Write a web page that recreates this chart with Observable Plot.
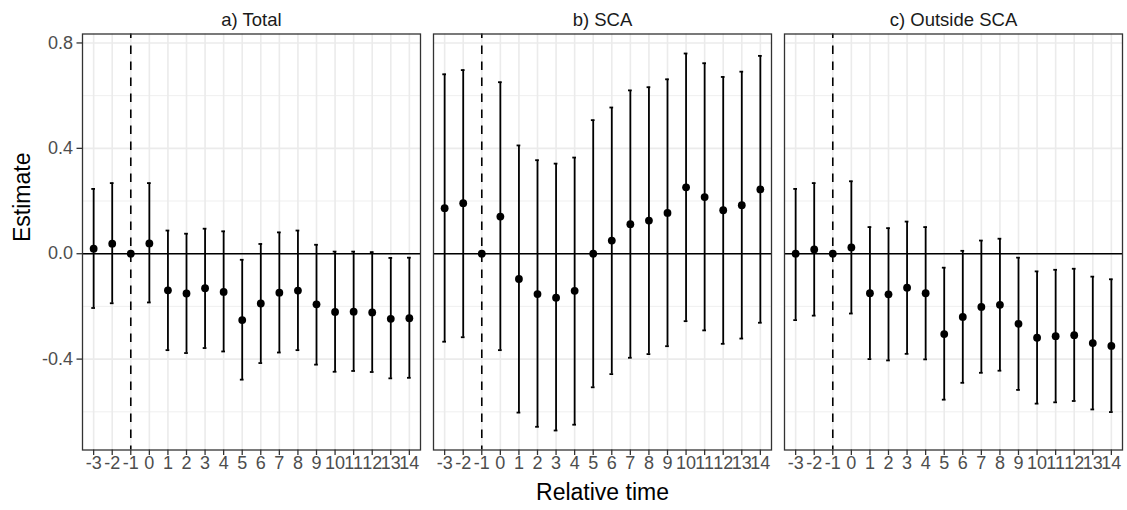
<!DOCTYPE html>
<html><head><meta charset="utf-8">
<script src="https://cdn.jsdelivr.net/npm/d3@7"></script>
<script src="https://cdn.jsdelivr.net/npm/@observablehq/plot@0.6"></script>
<style>html,body{margin:0;padding:0;background:#fff}</style>
</head><body><div id="chart"></div>
<script>
const panels = ["a) Total", "b) SCA", "c) Outside SCA"];
const relTime = [-3, -2, -1, 0, 1, 2, 3, 4, 5, 6, 7, 8, 9, 10, 11, 12, 13, 14];
const yMajor = [-0.4, 0, 0.4, 0.8];
const yMinor = [-0.6, -0.2, 0.2, 0.6];

const totalEst = [0.019, 0.038, 0, 0.039, -0.139, -0.151, -0.131, -0.145, -0.252, -0.189, -0.148, -0.140, -0.192, -0.221, -0.220, -0.223, -0.247, -0.245];
const totalLo  = [-0.206, -0.188, 0, -0.185, -0.366, -0.377, -0.358, -0.371, -0.478, -0.415, -0.375, -0.366, -0.421, -0.448, -0.445, -0.449, -0.473, -0.471];
const totalHi  = [0.246, 0.268, 0, 0.268, 0.088, 0.076, 0.095, 0.085, -0.023, 0.037, 0.081, 0.088, 0.034, 0.008, 0.008, 0.006, -0.016, -0.015];

const scaEst = [0.173, 0.192, 0, 0.141, -0.096, -0.153, -0.167, -0.141, 0.0, 0.050, 0.112, 0.126, 0.155, 0.252, 0.215, 0.165, 0.184, 0.244];
const scaLo  = [-0.334, -0.317, 0, -0.366, -0.603, -0.657, -0.671, -0.649, -0.507, -0.457, -0.395, -0.381, -0.351, -0.256, -0.291, -0.342, -0.322, -0.262];
const scaHi  = [0.681, 0.697, 0, 0.651, 0.411, 0.355, 0.342, 0.365, 0.507, 0.555, 0.620, 0.632, 0.662, 0.760, 0.723, 0.671, 0.691, 0.751];

const outEst = [0.0, 0.016, 0, 0.024, -0.150, -0.154, -0.129, -0.150, -0.305, -0.240, -0.202, -0.194, -0.266, -0.319, -0.313, -0.309, -0.339, -0.350];
const outLo  = [-0.252, -0.235, 0, -0.227, -0.400, -0.405, -0.380, -0.401, -0.554, -0.490, -0.452, -0.444, -0.517, -0.569, -0.564, -0.559, -0.591, -0.601];
const outHi  = [0.246, 0.268, 0, 0.275, 0.101, 0.097, 0.122, 0.101, -0.053, 0.011, 0.050, 0.057, -0.015, -0.067, -0.061, -0.057, -0.087, -0.097];

const series = [[totalEst, totalLo, totalHi], [scaEst, scaLo, scaHi], [outEst, outLo, outHi]];
const rows = [];
panels.forEach((p, i) => relTime.forEach((t, j) => {
  rows.push({panel: p, t, est: series[i][0][j], lo: series[i][1][j], hi: series[i][2][j]});
}));
const bars = rows.filter(d => d.hi !== d.lo);

const font = "'Liberation Sans', Arial, sans-serif";
const chart = Plot.plot({
  width: 1127, height: 510,
  marginTop: 33.5, marginBottom: 60.5, marginLeft: 81.7, marginRight: 4.7,
  style: {fontFamily: font, background: "#fff", overflow: "visible"},
  fx: {domain: panels, paddingInner: 0.036, paddingOuter: 0, axis: null, label: null},
  x: {domain: [-3.6, 14.6]},
  y: {domain: [-0.745, 0.834]},
  marks: [
    Plot.gridY(yMinor, {stroke: "#ebebeb", strokeOpacity: 1, strokeWidth: 0.8}),
    Plot.gridY(yMajor, {stroke: "#ebebeb", strokeOpacity: 1, strokeWidth: 1.6}),
    Plot.gridX(relTime, {stroke: "#ebebeb", strokeOpacity: 1, strokeWidth: 1.6}),
    Plot.ruleY([0], {stroke: "#000", strokeWidth: 1.6}),
    Plot.ruleX([-1], {stroke: "#000", strokeWidth: 1.6, strokeDasharray: "8.5,7.5", strokeDashoffset: 4}),
    Plot.ruleX(bars, {fx: "panel", x: "t", y1: "lo", y2: "hi", stroke: "#000", strokeWidth: 1.8}),
    Plot.ruleY(bars, {fx: "panel", y: "lo", x1: d => d.t - 0.1, x2: d => d.t + 0.1, stroke: "#000", strokeWidth: 1.8}),
    Plot.ruleY(bars, {fx: "panel", y: "hi", x1: d => d.t - 0.1, x2: d => d.t + 0.1, stroke: "#000", strokeWidth: 1.8}),
    Plot.dot(rows, {fx: "panel", x: "t", y: "est", r: 3.9, fill: "#000", stroke: null}),
    Plot.frame({stroke: "#333333", strokeWidth: 1.3}),
    Plot.axisX({ticks: relTime, tickFormat: d => String(d), tickSize: 5.5, tickPadding: 1, fontSize: 18, fill: "#4d4d4d", stroke: "#333333", strokeWidth: 1.3, label: null}),
    Plot.axisY({ticks: yMajor, tickFormat: d => d.toFixed(1), tickSize: 5.5, tickPadding: 4, fontSize: 18, fill: "#4d4d4d", stroke: "#333333", strokeWidth: 1.3, label: null}),
    Plot.text(panels, {fx: d => d, text: d => d, frameAnchor: "top", lineAnchor: "middle", dy: -14.2, fontSize: 18.5, fill: "#1a1a1a"}),
    Plot.text(["Estimate"], {fx: [panels[0]], text: d => d, frameAnchor: "left", lineAnchor: "middle", rotate: -90, dx: -60, fontSize: 23, fill: "#000"}),
    Plot.text(["Relative time"], {fx: [panels[1]], text: d => d, frameAnchor: "bottom", lineAnchor: "middle", dy: 43, fontSize: 23, fill: "#000"})
  ]
});
document.getElementById("chart").appendChild(chart);
</script>
</body></html>
